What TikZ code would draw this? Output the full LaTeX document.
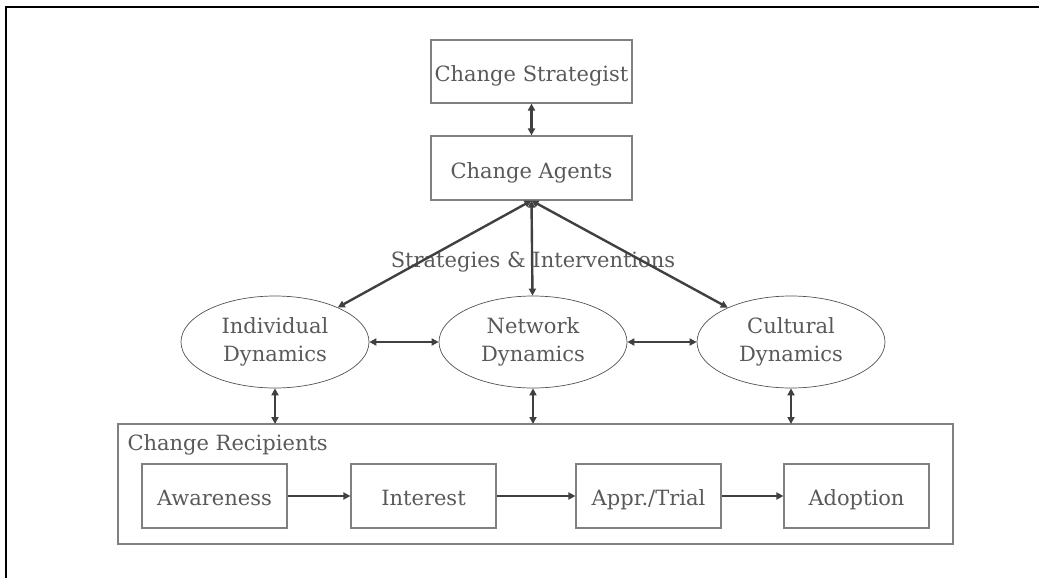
\documentclass[tikz,border=0pt]{standalone}
\usepackage{fontspec}
\setmainfont{DejaVu Serif}
\usepackage{xcolor}
\usepackage{tikz}
\usetikzlibrary{positioning,arrows.meta,shapes.geometric,calc}

\definecolor{txtgray}{HTML}{595959}
\definecolor{linegray}{HTML}{808080}
\definecolor{arrgray}{HTML}{404040}

\begin{document}
\begin{tikzpicture}[x=1pt, y=-1pt, font=\fontsize{21}{28}\selectfont, text=txtgray,
  box/.style={draw=linegray, line width=1.2pt, minimum width=201pt, minimum height=63pt,
              inner sep=0pt, align=center, text height=20pt, text depth=0pt},
  stage/.style={draw=linegray, line width=1.2pt, minimum width=145pt, minimum height=64pt,
                inner sep=0pt, align=center, text height=18pt, text depth=0pt},
  dyn/.style={ellipse, draw=arrgray!90, line width=0.7pt, minimum width=188pt,
              minimum height=92pt, inner sep=0pt, align=center},
  link/.style={draw=arrgray, line width=2.4pt, {Triangle[length=7pt,width=7pt]}-{Triangle[length=7pt,width=7pt]}},
  flow/.style={draw=arrgray, line width=2.4pt, -{Triangle[length=7pt,width=7pt]}}]

\useasboundingbox (0,0) rectangle (1039,578);
\draw[line width=2pt, black] (6,578) -- (6,7) -- (1039,7);

% top of the hierarchy
\node[box] (strat)  at (531.5,71.5) {Change Strategist};
\node[box, minimum height=64pt] (agents) at (531.5,168) {Change Agents};

% the three dynamics
\node[dyn] (indiv) at (275,342) {Individual\\Dynamics};
\node[dyn] (netw)  at (533,342) {Network\\Dynamics};
\node[dyn] (cult)  at (791,342) {Cultural\\Dynamics};

\node (strint) at (533,262) {Strategies \& Interventions};

% recipients and the adoption stages
\draw[draw=linegray, line width=1.2pt] (118,424) rectangle (953,544);
\coordinate (recip) at (535.5,424);
\node[anchor=west] (rtitle) at (124,445) {Change Recipients};

\node[stage] (aware) at (214.5,496) {Awareness};
\node[stage] (inter) at (423.5,496) {Interest};
\node[stage] (trial) at (648.5,496) {Appr./Trial};
\node[stage] (adopt) at (856.5,496) {Adoption};

\draw[link] (strat) -- (agents);
\foreach \d in {indiv, netw, cult}{
  \draw[link] (agents.south) -- (\d);
  \draw[link] (\d.south) -- (\d.south |- recip);
}
\draw[link] (indiv) -- (netw);
\draw[link] (netw) -- (cult);

\foreach \a/\b in {aware/inter, inter/trial, trial/adopt}{
  \draw[flow] (\a) -- (\b);
}
\end{tikzpicture}
\end{document}
